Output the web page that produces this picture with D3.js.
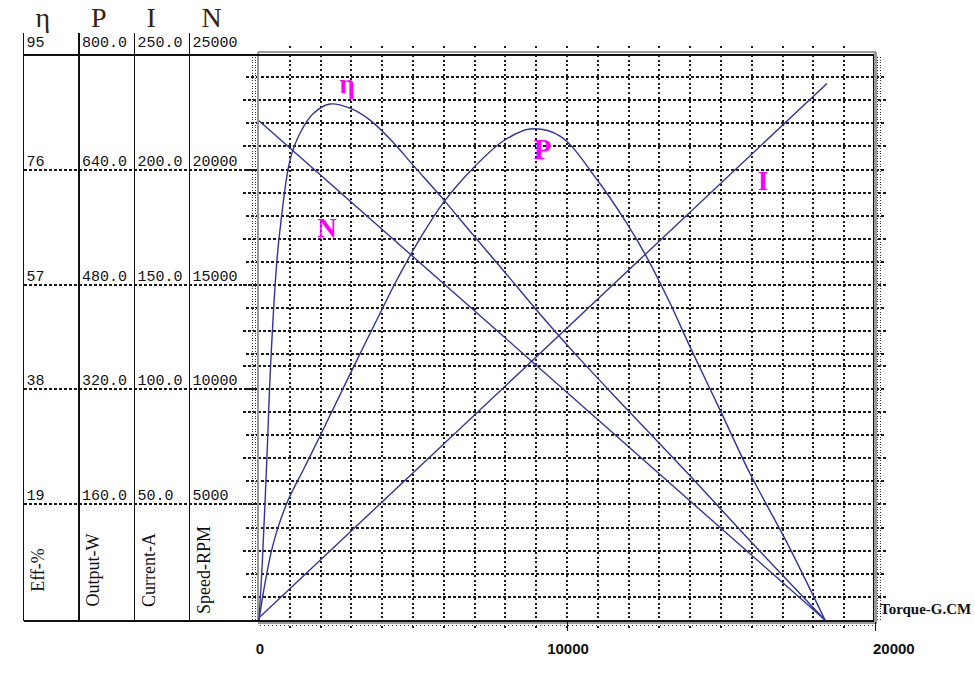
<!DOCTYPE html>
<html><head><meta charset="utf-8">
<script src="https://cdn.jsdelivr.net/npm/d3@7"></script>
<style>
html,body{margin:0;padding:0;background:#fff;overflow:hidden}
svg{display:block;background:#fff}
</style></head><body>
<svg id="chart" width="975" height="673"></svg>
<script>
// ---------- data ----------
const columnSymbols = ["η", "P", "I", "N"];
const columnTitles = ["Eff-%", "Output-W", "Current-A", "Speed-RPM"];
const etaTicks = ["95", "76", "57", "38", "19"];
const powerTicks = ["800.0", "640.0", "480.0", "320.0", "160.0"];
const currentTicks = ["250.0", "200.0", "150.0", "100.0", "50.0"];
const speedTicks = ["25000", "20000", "15000", "10000", "5000"];
const torqueTicks = [0, 10000, 20000];
const torqueTitle = "Torque-G.CM";

const etaTorque = [0, 107, 250, 380, 575, 682, 1006, 1331, 1763, 2305, 2955, 3604, 4351, 5010, 5984, 6958, 8042, 9016, 10205, 11721, 13994, 15942, 18377];
const etaValues = [0, 9.6, 26.4, 43.1, 59.9, 65.5, 77.2, 81.7, 85.0, 86.6, 85.9, 83.9, 80.2, 76.3, 70.6, 64.6, 58.0, 52.0, 45.0, 36.6, 24.2, 13.3, 0];

const powerTorque = [0, 195, 412, 627, 951, 1494, 2036, 3117, 4016, 4360, 4740, 5227, 5984, 6958, 7932, 8799, 9773, 10964, 11938, 12588, 13344, 13994, 14968, 15942, 17133, 18377];
const powerValues = [0, 52, 99, 132, 170, 217, 265, 362, 441, 471, 502, 539, 590, 639, 677, 694, 684, 623, 561, 513, 448, 386, 297, 207, 110, 0];

const speedTorque = [0, 18377];
const speedValues = [22050, 0];

const currentTorque = [0, 18440];
const currentValues = [1, 237];

// ---------- layout ----------
const plotL = 259, plotR = 875, plotT = 54, plotB = 620;
const colLefts = [23.5, 79, 134.5, 189.5];
const svg = d3.select("#chart");

const x = d3.scaleLinear().domain([0, 20000]).range([plotL, plotR]);
const yEta = d3.scaleLinear().domain([0, 95]).range([plotB, plotT]);
const yP = d3.scaleLinear().domain([0, 800]).range([plotB, plotT]);
const yI = d3.scaleLinear().domain([0, 250]).range([plotB, plotT]);
const yN = d3.scaleLinear().domain([0, 25000]).range([plotB, plotT]);

// grid rows are laid out from the top and from the bottom with the same pitch
const rowStep = 25000 / 24.5;
const topRows = d3.range(1, 14).map(k => 25000 - k * rowStep);
const bottomRows = d3.range(1, 12).map(k => k * rowStep);
const gridRows = topRows.concat(bottomRows);
const tableRowValue = i => i === 0 ? 25000 : (i <= 2 ? 25000 - i * 5 * rowStep : (5 - i) * 5 * rowStep);

const ink = "#111";
const gridInk = "#1a1a1a";
const gridG = svg.append("g").attr("shape-rendering", "crispEdges");

// vertical grid lines (dotted)
gridG.selectAll("line.vg").data(d3.range(1000, 20000, 1000)).join("line")
  .attr("x1", d => Math.round(x(d))).attr("x2", d => Math.round(x(d)))
  .attr("y1", 46).attr("y2", 630)
  .attr("stroke", gridInk).attr("stroke-width", 2).attr("stroke-dasharray", "2,2.6");

// horizontal grid lines (dashed)
gridG.selectAll("line.hg").data(gridRows).join("line")
  .attr("x1", (d, i) => i % 2 ? 243 : 246).attr("x2", (d, i) => i % 2 ? 888 : 885)
  .attr("y1", d => Math.round(yN(d))).attr("y2", d => Math.round(yN(d)))
  .attr("stroke", gridInk).attr("stroke-width", 2).attr("stroke-dasharray", "3,2");

// dotted side columns and under-axis dotted row
[252.5, 255.5].forEach(cx => gridG.append("line").attr("x1", cx).attr("x2", cx)
  .attr("y1", 57).attr("y2", 620).attr("stroke", "#333").attr("stroke-width", 1).attr("stroke-dasharray", "1,1.6"));
[877.5, 880.5].forEach(cx => gridG.append("line").attr("x1", cx).attr("x2", cx)
  .attr("y1", 57).attr("y2", 620).attr("stroke", "#333").attr("stroke-width", 1).attr("stroke-dasharray", "1,1.6"));
gridG.append("line").attr("x1", 260).attr("x2", 874).attr("y1", 625.5).attr("y2", 625.5)
  .attr("stroke", "#333").attr("stroke-width", 1).attr("stroke-dasharray", "1,3");

// table dotted rows
gridG.selectAll("line.tr").data([1, 2, 3, 4]).join("line")
  .attr("x1", colLefts[0]).attr("x2", plotL)
  .attr("y1", i => Math.round(yN(tableRowValue(i)))).attr("y2", i => Math.round(yN(tableRowValue(i))))
  .attr("stroke", gridInk).attr("stroke-width", 2).attr("stroke-dasharray", "3,2");

// frame: grey outer band + black inner line
const frame = svg.append("g").attr("shape-rendering", "crispEdges");
frame.append("path").attr("d", `M257.5,52 H876 M875.5,52 V624 M876,623 H257.5 M258,52 V621`)
  .attr("stroke", "#999").attr("stroke-width", 2.2).attr("fill", "none");
frame.append("line").attr("x1", colLefts[0]).attr("x2", 874).attr("y1", 54.5).attr("y2", 54.5).attr("stroke", ink).attr("stroke-width", 2);
frame.append("line").attr("x1", colLefts[0]).attr("x2", 874).attr("y1", 621).attr("y2", 621).attr("stroke", ink).attr("stroke-width", 2);
frame.append("line").attr("x1", 873.5).attr("x2", 873.5).attr("y1", 54).attr("y2", 622).attr("stroke", ink).attr("stroke-width", 1.5);
// axis tick marks
frame.selectAll("line.tk").data(torqueTicks.slice(1)).join("line")
  .attr("x1", d => Math.round(x(d)) + 0.5).attr("x2", d => Math.round(x(d)) + 0.5)
  .attr("y1", 622).attr("y2", 631).attr("stroke", ink).attr("stroke-width", 1.3);

// table column lines
frame.selectAll("line.col").data(colLefts).join("line")
  .attr("x1", d => d).attr("x2", d => d).attr("y1", 33).attr("y2", 621)
  .attr("stroke", ink).attr("stroke-width", 1.6);

// table header symbols
svg.selectAll("text.sym").data(columnSymbols).join("text")
  .attr("x", (d, i) => colLefts[i] + 12).attr("y", 27)
  .attr("font-family", "'Liberation Serif','DejaVu Serif',serif").attr("font-size", 28)
  .attr("fill", "#3a2208").text(d => d);

// table tick labels
const tickCols = [etaTicks, powerTicks, currentTicks, speedTicks];
tickCols.forEach((ticks, c) => {
  svg.selectAll(null).data(ticks).join("text")
    .attr("x", colLefts[c] + 3)
    .attr("y", (d, i) => i === 0 ? 47 : Math.round(yN(tableRowValue(i))) - 4)
    .attr("font-family", "'Liberation Mono','DejaVu Sans Mono',monospace").attr("font-size", 15)
    .attr("fill", ink).text(d => d);
});

// column titles (rotated)
svg.selectAll("text.ctitle").data(columnTitles).join("text")
  .attr("transform", (d, i) => `translate(${colLefts[i] + 20},570) rotate(-90)`)
  .attr("text-anchor", "middle")
  .attr("font-family", "'Liberation Serif','DejaVu Serif',serif").attr("font-size", 18)
  .attr("fill", ink).text(d => d);

// x tick labels
svg.selectAll("text.xt").data(torqueTicks).join("text")
  .attr("x", (d, i) => i === torqueTicks.length - 1 ? x(d) - 2 : x(d) + 1)
  .attr("y", 654)
  .attr("text-anchor", (d, i) => i === torqueTicks.length - 1 ? "start" : "middle")
  .attr("font-family", "'Liberation Sans',Arial,sans-serif").attr("font-weight", "bold").attr("font-size", 15)
  .attr("fill", ink).text(d => d);

svg.append("text").attr("x", 880).attr("y", 614)
  .attr("font-family", "'Liberation Serif','DejaVu Serif',serif").attr("font-weight", "bold").attr("font-size", 15)
  .attr("fill", ink).text(torqueTitle);

// ---------- curves ----------
const curveColor = "#33339a";
const series = [
  { t: etaTorque, v: etaValues, y: yEta },
  { t: powerTorque, v: powerValues, y: yP },
  { t: speedTorque, v: speedValues, y: yN },
  { t: currentTorque, v: currentValues, y: yI }
];
series.forEach(s => {
  const pts = s.t.map((t, i) => [t, s.v[i]]);
  const line = d3.line().x(d => x(d[0])).y(d => s.y(d[1])).curve(d3.curveCatmullRom.alpha(0.5));
  svg.append("path").attr("d", line(pts)).attr("fill", "none")
    .attr("stroke", curveColor).attr("stroke-width", 1.4);
});

// curve labels (magenta)
const curveLabels = [
  { text: "η", t: 2860, y: yEta, v: 88.5, size: 27 },
  { text: "P", t: 9205, y: yP, v: 651, size: 29 },
  { text: "N", t: 2208, y: yN, v: 16939, size: 27 },
  { text: "I", t: 16364, y: yI, v: 189.9, size: 27 }
];
svg.selectAll("text.cl").data(curveLabels).join("text")
  .attr("x", d => x(d.t)).attr("y", d => d.y(d.v)).attr("text-anchor", "middle")
  .attr("font-family", "'Liberation Serif','DejaVu Serif',serif").attr("font-weight", "bold")
  .attr("font-size", d => d.size).attr("fill", "#ff00ff").text(d => d.text);
</script>
</body></html>
